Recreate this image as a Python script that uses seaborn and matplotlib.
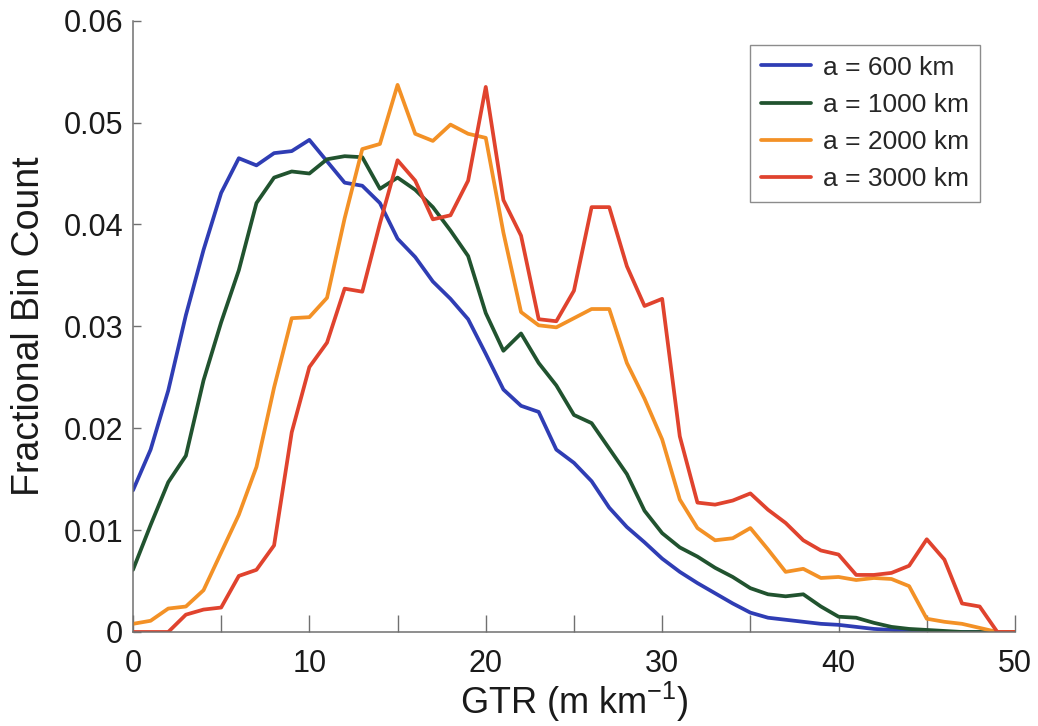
import matplotlib
matplotlib.use("Agg")
import matplotlib.pyplot as plt
import pandas as pd
import seaborn as sns

# GTR bins (m km^-1)
gtr = list(range(51))

frac_600 = [0.0139, 0.0179, 0.0237, 0.0311, 0.0375, 0.0431, 0.0465, 0.0458, 0.0470, 0.0472,
            0.0483, 0.0462, 0.0441, 0.0438, 0.0421, 0.0386, 0.0368, 0.0344, 0.0327, 0.0307,
            0.0273, 0.0238, 0.0222, 0.0216, 0.0179, 0.0166, 0.0148, 0.0122, 0.0103, 0.0088,
            0.0072, 0.0059, 0.0048, 0.0038, 0.0028, 0.0019, 0.0014, 0.0012, 0.0010, 0.0008,
            0.0007, 0.0005, 0.0003, 0.0002, 0.0001, 0.0, 0.0, 0.0, 0.0, 0.0, 0.0]
frac_1000 = [0.0061, 0.0105, 0.0147, 0.0173, 0.0247, 0.0304, 0.0355, 0.0421, 0.0446, 0.0452,
             0.0450, 0.0464, 0.0467, 0.0466, 0.0435, 0.0446, 0.0434, 0.0417, 0.0394, 0.0369,
             0.0313, 0.0276, 0.0293, 0.0264, 0.0242, 0.0213, 0.0205, 0.0180, 0.0155, 0.0119,
             0.0097, 0.0083, 0.0074, 0.0063, 0.0054, 0.0043, 0.0037, 0.0035, 0.0037, 0.0025,
             0.0015, 0.0014, 0.0009, 0.0005, 0.0003, 0.0002, 0.0001, 0.0, 0.0, 0.0, 0.0]
frac_2000 = [0.0008, 0.0011, 0.0023, 0.0025, 0.0041, 0.0078, 0.0115, 0.0162, 0.0240, 0.0308,
             0.0309, 0.0328, 0.0406, 0.0474, 0.0479, 0.0537, 0.0489, 0.0482, 0.0498, 0.0489,
             0.0485, 0.0392, 0.0314, 0.0301, 0.0299, 0.0308, 0.0317, 0.0317, 0.0264, 0.0229,
             0.0189, 0.0130, 0.0102, 0.0090, 0.0092, 0.0102, 0.0081, 0.0059, 0.0062, 0.0053,
             0.0054, 0.0051, 0.0053, 0.0052, 0.0045, 0.0013, 0.0010, 0.0008, 0.0004, 0.0, 0.0]
frac_3000 = [0.0, 0.0, 0.0, 0.0017, 0.0022, 0.0024, 0.0055, 0.0061, 0.0085, 0.0196,
             0.0260, 0.0284, 0.0337, 0.0334, 0.0401, 0.0463, 0.0443, 0.0405, 0.0409, 0.0443,
             0.0535, 0.0424, 0.0389, 0.0307, 0.0305, 0.0335, 0.0417, 0.0417, 0.0359, 0.0320,
             0.0327, 0.0192, 0.0127, 0.0125, 0.0129, 0.0136, 0.0120, 0.0107, 0.0090, 0.0080,
             0.0076, 0.0056, 0.0056, 0.0058, 0.0065, 0.0091, 0.0071, 0.0028, 0.0025, 0.0, 0.0]

series_labels = ["a = 600 km", "a = 1000 km", "a = 2000 km", "a = 3000 km"]
series_colors = ["#2f3db4", "#21532f", "#f39126", "#e0432e"]

x_ticks = [0, 5, 10, 15, 20, 25, 30, 35, 40, 45, 50]
x_tick_labels = ["0", "", "10", "", "20", "", "30", "", "40", "", "50"]
y_ticks = [0, 0.01, 0.02, 0.03, 0.04, 0.05, 0.06]
y_tick_labels = ["0", "0.01", "0.02", "0.03", "0.04", "0.05", "0.06"]

frames = []
for label, vals in zip(series_labels, [frac_600, frac_1000, frac_2000, frac_3000]):
    frames.append(pd.DataFrame({"gtr": gtr, "frac": vals, "run": label}))
df = pd.concat(frames, ignore_index=True)

sns.set_style("white")
plt.rcParams["font.family"] = ["Liberation Sans", "DejaVu Sans"]
plt.rcParams["mathtext.fontset"] = "custom"
plt.rcParams["mathtext.rm"] = "Liberation Sans"

fig = plt.figure(figsize=(10.38, 7.26), dpi=100)
ax = fig.add_axes([0.1281, 0.1295, 0.8497, 0.842])

sns.lineplot(data=df, x="gtr", y="frac", hue="run", hue_order=series_labels,
             palette=dict(zip(series_labels, series_colors)), linewidth=2.7, ax=ax)

ax.set_xlim(0, 50)
ax.set_ylim(0, 0.06)
ax.set_xticks(x_ticks)
ax.set_xticklabels(x_tick_labels)
ax.set_yticks(y_ticks)
ax.set_yticklabels(y_tick_labels)

for side in ["top", "right"]:
    ax.spines[side].set_visible(False)
for side in ["left", "bottom"]:
    ax.spines[side].set_color("#707070")
    ax.spines[side].set_linewidth(1.1)

ax.tick_params(axis="x", bottom=True, direction="in", length=12, width=1.0, color="#707070",
               labelsize=22, pad=12, labelcolor="#1a1a1a")
ax.tick_params(axis="y", left=True, direction="in", length=6, width=1.0, color="#707070",
               labelsize=22, pad=7, labelcolor="#1a1a1a")

ax.set_xlabel("GTR (m km$^{\\mathregular{-1}}$)", fontsize=26, color="#1a1a1a", labelpad=1)
ax.set_ylabel("Fractional Bin Count", fontsize=27, color="#1a1a1a", labelpad=12)

handles, labels = ax.get_legend_handles_labels()
leg = ax.legend(handles, labels, loc="upper right", bbox_to_anchor=(0.960, 0.960),
                borderaxespad=0, fontsize=19, frameon=True, fancybox=False,
                handlelength=1.9, handletextpad=0.45, labelspacing=0.5,
                borderpad=0.4, edgecolor="#707070")
leg.get_frame().set_linewidth(1.0)
for line in leg.get_lines():
    line.set_linewidth(2.7)

fig.savefig("out.png", dpi=100)
